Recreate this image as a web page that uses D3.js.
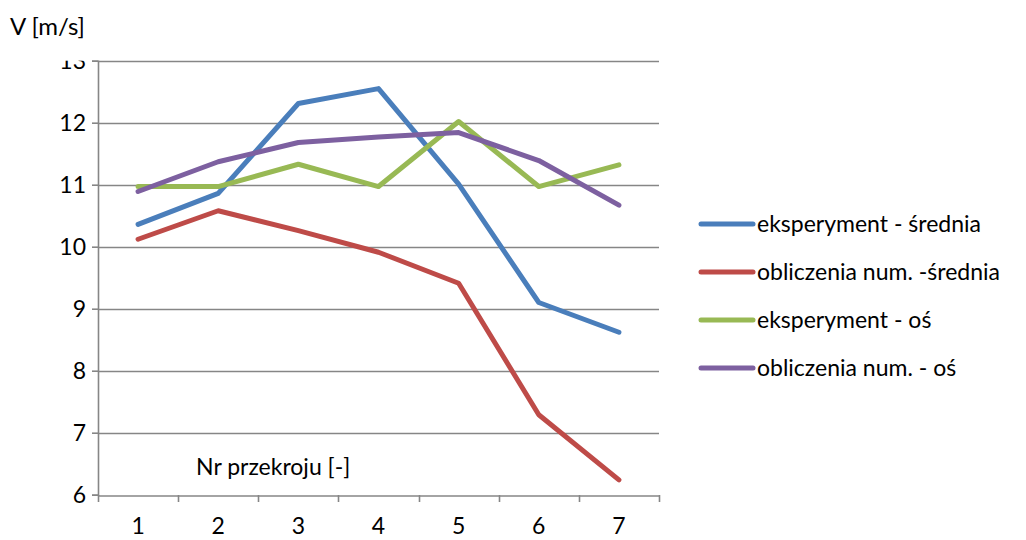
<!DOCTYPE html>
<html>
<head>
<meta charset="utf-8">
<script src="https://cdn.jsdelivr.net/npm/d3@7"></script>
<style>
  html, body { margin: 0; padding: 0; background: #fff; }
  svg { display: block; font-family: Lato, "Open Sans", sans-serif; }
</style>
</head>
<body>
<svg id="chart" width="1026" height="540"></svg>
<script>
// Cross-section numbers along the x axis
const sections = ["1", "2", "3", "4", "5", "6", "7"];

// Velocity [m/s] per cross-section
const eksperymentSrednia = [10.36, 10.86, 12.31, 12.55, 11.01, 9.10, 8.62];
const obliczeniaSrednia  = [10.12, 10.58, 10.26, 9.91, 9.41, 7.29, 6.24];
const eksperymentOs      = [10.97, 10.97, 11.33, 10.97, 12.02, 10.97, 11.32];
const obliczeniaOs       = [10.89, 11.37, 11.68, 11.77, 11.84, 11.39, 10.67];

const seriesNames = ["eksperyment - średnia", "obliczenia num. -średnia", "eksperyment - oś", "obliczenia num. - oś"];
const yTicks = [6, 7, 8, 9, 10, 11, 12, 13];

const series = [
  { name: seriesNames[0], values: eksperymentSrednia, color: "#4A7EBB" },
  { name: seriesNames[1], values: obliczeniaSrednia,  color: "#BE4B48" },
  { name: seriesNames[2], values: eksperymentOs,      color: "#98B954" },
  { name: seriesNames[3], values: obliczeniaOs,       color: "#7D60A0" }
];

const svg = d3.select("#chart");
const plotLeft = 98, plotRight = 659, plotTop = 60.7, plotBottom = 494.7;
const fontSize = 23;

const x = d3.scaleBand().domain(sections).range([plotLeft, plotRight]);
const y = d3.scaleLinear().domain([6, 13]).range([plotBottom, plotTop]);

const gridColor = "#868686";

// horizontal gridlines
svg.append("g")
  .selectAll("line")
  .data(yTicks.slice(1))
  .join("line")
  .attr("x1", plotLeft).attr("x2", plotRight)
  .attr("y1", d => Math.round(y(d)) + 0.5).attr("y2", d => Math.round(y(d)) + 0.5)
  .attr("stroke", gridColor).attr("stroke-width", 1.6);

// y axis
const yAxis = svg.append("g")
  .attr("transform", `translate(${plotLeft},0)`)
  .call(d3.axisLeft(y).tickValues(yTicks).tickSize(6).tickPadding(6).tickFormat(d3.format("d")));
yAxis.select(".domain").attr("stroke", gridColor).attr("stroke-width", 1.6);
yAxis.selectAll(".tick line").attr("stroke", gridColor).attr("stroke-width", 1.6);
yAxis.selectAll(".tick text").attr("font-size", fontSize).attr("fill", "#000")
  .attr("font-family", "Lato, 'Open Sans', sans-serif");

// x axis
const xAxis = svg.append("g")
  .attr("transform", `translate(0,${Math.round(plotBottom) + 0.5})`)
  .call(d3.axisBottom(x).tickSize(0).tickPadding(22));
xAxis.select(".domain").attr("stroke", gridColor).attr("stroke-width", 1.6);
xAxis.selectAll(".tick text").attr("font-size", fontSize).attr("fill", "#000")
  .attr("font-family", "Lato, 'Open Sans', sans-serif");
// category boundary ticks
svg.append("g")
  .selectAll("line")
  .data(sections.map((s, i) => i).concat([sections.length]))
  .join("line")
  .attr("x1", i => Math.round(plotLeft + i * x.step()) + 0.5)
  .attr("x2", i => Math.round(plotLeft + i * x.step()) + 0.5)
  .attr("y1", Math.round(plotBottom)).attr("y2", Math.round(plotBottom) + 7)
  .attr("stroke", gridColor).attr("stroke-width", 1.6);

// the top value label sits partly above the plot frame and is cut off
svg.append("rect").attr("x", 30).attr("y", 40).attr("width", 61).attr("height", plotTop - 40)
  .attr("fill", "#fff");

// series lines
const line = d3.line()
  .x((d, i) => x(sections[i]) + x.bandwidth() / 2)
  .y(d => y(d));

svg.append("g")
  .selectAll("path")
  .data(series)
  .join("path")
  .attr("d", d => line(d.values))
  .attr("fill", "none")
  .attr("stroke", d => d.color)
  .attr("stroke-width", 5)
  .attr("stroke-linejoin", "round")
  .attr("stroke-linecap", "round");

// axis titles
svg.append("text").attr("x", 10).attr("y", 35).attr("font-size", 24).attr("fill", "#000")
  .text("V [m/s]");
svg.append("text").attr("x", 196).attr("y", 475).attr("font-size", fontSize).attr("fill", "#000")
  .text("Nr przekroju [-]");

// legend
const legend = svg.append("g")
  .selectAll("g")
  .data(series)
  .join("g")
  .attr("transform", (d, i) => `translate(700,${224 + i * 48})`);
legend.append("line")
  .attr("x1", 1).attr("x2", 53).attr("y1", 0).attr("y2", 0)
  .attr("stroke", d => d.color).attr("stroke-width", 5).attr("stroke-linecap", "round");
legend.append("text")
  .attr("x", 57).attr("y", 0).attr("dy", "0.35em")
  .attr("font-size", fontSize).attr("fill", "#000")
  .text(d => d.name);
</script>
</body>
</html>
